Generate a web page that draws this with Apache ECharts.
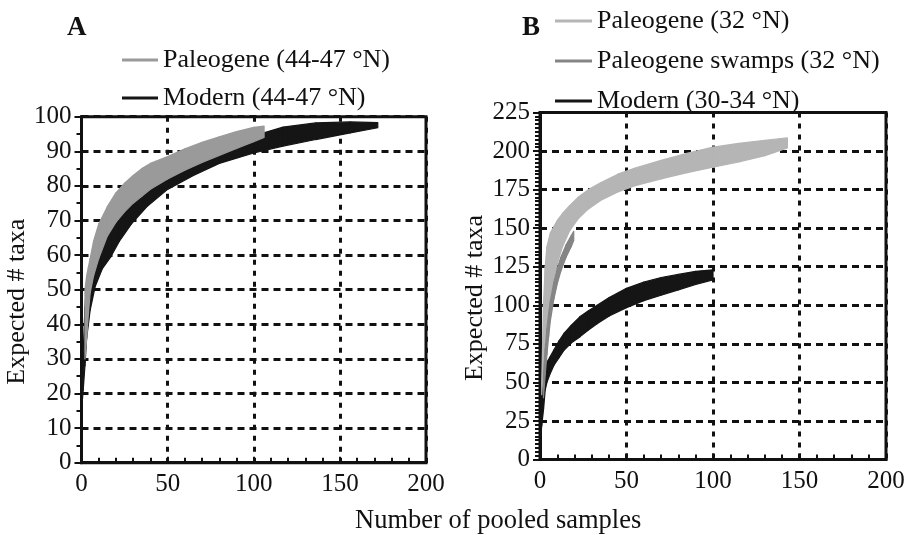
<!DOCTYPE html>
<html>
<head>
<meta charset="utf-8">
<script src="https://cdn.jsdelivr.net/npm/echarts@6/dist/echarts.min.js"></script>
<style>
html,body{margin:0;padding:0;background:#fff;}
#chart{width:910px;height:535px;}
</style>
</head>
<body>
<div id="chart"></div>
<script>
// Rarefaction bands: expected number of taxa vs number of pooled samples.
// Each curve is stored as x positions with lower and upper band edges.

// Panel A — 44-47 °N
const paleoA_x  = [2, 3, 4, 5, 7, 10, 15, 20, 25, 30, 35, 40, 50, 60, 70, 80, 90, 100, 106];
const paleoA_hi = [50, 54, 56.5, 59, 64, 69, 74, 78, 80.8, 83, 85, 86.5, 88.5, 90.7, 92.6, 94.2, 95.7, 96.9, 97.3];
const paleoA_lo = [30, 36, 43, 49, 54, 59, 65.5, 69.5, 72.5, 75, 77, 79, 82, 84.5, 86.8, 88.8, 90.8, 92.8, 94];

const modernA_x  = [0.5, 1, 2, 3, 5, 8, 12, 17, 22, 29, 38, 50, 65, 80, 100, 117, 136, 156, 172];
const modernA_lo = [18, 21, 28, 36, 44, 51, 56, 59.5, 64, 69, 74, 79, 83, 86.5, 89.5, 91.5, 93.4, 95.3, 96.8];
const modernA_hi = [24, 32, 45, 52, 56, 60, 64, 68, 71.5, 75.5, 79.5, 83.5, 87.5, 90.5, 94.5, 97, 98.2, 98.5, 98.3];

// Panel B — 32 °N and 30-34 °N
const paleoB_x  = [1, 2, 3, 4, 6, 8, 10, 13, 17, 22, 28, 35, 45, 55, 70, 85, 100, 115, 130, 143];
const paleoB_hi = [50, 100, 125, 138, 147, 151, 155, 159.5, 164.5, 170, 175, 179.5, 185, 189, 194, 198.5, 202.5, 205, 207, 208.5];
const paleoB_lo = [42, 62, 78, 90, 106, 118, 127, 138, 148, 156, 162.5, 168, 173.5, 177.5, 182, 186, 189.5, 193, 197, 202];

const swampB_x  = [2, 3, 4, 5, 6, 8, 10, 12, 15, 18, 19.5];
const swampB_hi = [55, 72, 85, 95, 103, 115, 124, 131, 139, 145, 148];
const swampB_lo = [40, 55, 68, 80, 90, 104, 114, 122, 131, 138, 142];

const modernB_x  = [0.5, 1, 2, 3, 4, 6, 8, 11, 14, 18, 23, 28, 33, 40, 50, 60, 70, 80, 90, 100];
const modernB_hi = [35, 45, 55, 60, 63, 67, 71, 77, 82, 87, 92.5, 96.5, 100, 105, 111, 115, 118, 120, 122, 123];
const modernB_lo = [15, 22, 32, 45, 50, 56, 61, 66, 71, 75.5, 79.5, 84, 88, 93, 98.5, 103, 106.5, 110, 113.5, 116.5];

// Axis ticks
const xTicks = {min: 0, max: 200, interval: 50};
const yTicksA = {min: 0, max: 100, interval: 10};
const yTicksB = {min: 0, max: 225, interval: 25};

const names = {
  paleoA: 'Paleogene (44-47 °N)',
  modernA: 'Modern (44-47 °N)',
  paleoB: 'Paleogene (32 °N)',
  swampB: 'Paleogene swamps (32 °N)',
  modernB: 'Modern (30-34 °N)'
};

const colors = {
  paleoA: '#9a9a9a',
  modernA: '#151515',
  paleoB: '#b5b5b5',
  swampB: '#858585',
  modernB: '#151515'
};

const FONT = "'Liberation Serif', 'Times New Roman', serif";
const INK = '#111';

// A band is drawn segment by segment: each item holds one pair of
// consecutive samples and renders the quadrilateral between the edges.
function band(name, xs, lo, hi, color, gi) {
  const data = [];
  for (let i = 0; i < xs.length - 1; i++) {
    data.push([xs[i], lo[i], hi[i], xs[i + 1], lo[i + 1], hi[i + 1]]);
  }
  return {
    name: name, type: 'custom', xAxisIndex: gi, yAxisIndex: gi,
    color: color, itemStyle: {color: color},
    encode: {x: [0, 3], y: [1, 2, 4, 5]},
    clip: true,
    data: data,
    renderItem: function (params, api) {
      const p = [
        api.coord([api.value(0), api.value(1)]),
        api.coord([api.value(3), api.value(4)]),
        api.coord([api.value(3), api.value(5)]),
        api.coord([api.value(0), api.value(2)])
      ];
      return {
        type: 'polygon',
        shape: {points: p},
        style: {fill: color, stroke: color, lineWidth: 1.2, lineJoin: 'round'}
      };
    }
  };
}

function xAxisFor(gi) {
  return {
    type: 'value', gridIndex: gi, min: xTicks.min, max: xTicks.max, interval: xTicks.interval,
    axisLine: {show: true, lineStyle: {color: INK, width: 3}},
    axisTick: {show: true, inside: true, length: 6, lineStyle: {color: INK, width: 2}},
    minorTick: {show: true, splitNumber: 5, length: 5, lineStyle: {color: INK, width: 2}},
    axisLabel: {color: INK, fontFamily: FONT, fontSize: 25, margin: 9},
    splitLine: {show: true, lineStyle: {color: INK, width: 3, type: [5, 6]}}
  };
}

function yAxisFor(gi, t, minorSplit, gap) {
  return {
    type: 'value', gridIndex: gi, min: t.min, max: t.max, interval: t.interval,
    name: 'Expected # taxa', nameLocation: 'middle', nameGap: gap,
    nameTextStyle: {color: INK, fontFamily: FONT, fontSize: 26, padding: [0, 24, 0, 0]},
    axisLine: {show: true, lineStyle: {color: INK, width: 3}},
    axisTick: {show: true, inside: false, length: 7, lineStyle: {color: INK, width: 2}},
    minorTick: {show: true, splitNumber: minorSplit, length: 5, lineStyle: {color: INK, width: 2}},
    axisLabel: {color: INK, fontFamily: FONT, fontSize: 25, margin: 10},
    splitLine: {show: true, lineStyle: {color: INK, width: 3, type: [7, 5]}}
  };
}

const series = [
  band(names.modernA, modernA_x, modernA_lo, modernA_hi, colors.modernA, 0),
  band(names.paleoA, paleoA_x, paleoA_lo, paleoA_hi, colors.paleoA, 0),
  band(names.modernB, modernB_x, modernB_lo, modernB_hi, colors.modernB, 1),
  band(names.paleoB, paleoB_x, paleoB_lo, paleoB_hi, colors.paleoB, 1),
  band(names.swampB, swampB_x, swampB_lo, swampB_hi, colors.swampB, 1)
];

const legendBase = {
  orient: 'vertical', icon: 'rect', itemHeight: 3, padding: 0, selectedMode: false,
  textStyle: {color: INK, fontFamily: FONT, fontSize: 26, lineHeight: 30}
};

const option = {
  animation: false,
  backgroundColor: '#fff',
  title: [
    {text: 'A', left: 62, top: 10, textStyle: {fontFamily: FONT, fontSize: 27, fontWeight: 'bold', color: INK}},
    {text: 'B', left: 517, top: 10, textStyle: {fontFamily: FONT, fontSize: 27, fontWeight: 'bold', color: INK}},
    {text: 'Number of pooled samples', left: 350, top: 503, textStyle: {fontFamily: FONT, fontSize: 26.5, fontWeight: 'normal', color: INK}}
  ],
  legend: [
    Object.assign({}, legendBase, {
      left: 122, top: 45, itemWidth: 36, itemGap: 8,
      data: [
        {name: names.paleoA, itemStyle: {color: colors.paleoA}},
        {name: names.modernA, itemStyle: {color: colors.modernA}}
      ]
    }),
    Object.assign({}, legendBase, {
      left: 555, top: 6, itemWidth: 37, itemGap: 10,
      data: [
        {name: names.paleoB, itemStyle: {color: colors.paleoB}},
        {name: names.swampB, itemStyle: {color: colors.swampB}},
        {name: names.modernB, itemStyle: {color: colors.modernB}}
      ]
    })
  ],
  grid: [
    {left: 81.5, top: 116.7, width: 344.5, height: 346, show: true, borderColor: INK, borderWidth: 3, backgroundColor: 'transparent'},
    {left: 540, top: 112.5, width: 346, height: 347, show: true, borderColor: INK, borderWidth: 3, backgroundColor: 'transparent'}
  ],
  xAxis: [xAxisFor(0), xAxisFor(1)],
  yAxis: [yAxisFor(0, yTicksA, 2, 47), yAxisFor(1, yTicksB, 10, 51)],
  series: series
};

const chart = echarts.init(document.getElementById('chart'), null, {renderer: 'canvas'});
chart.setOption(option);
</script>
</body>
</html>
